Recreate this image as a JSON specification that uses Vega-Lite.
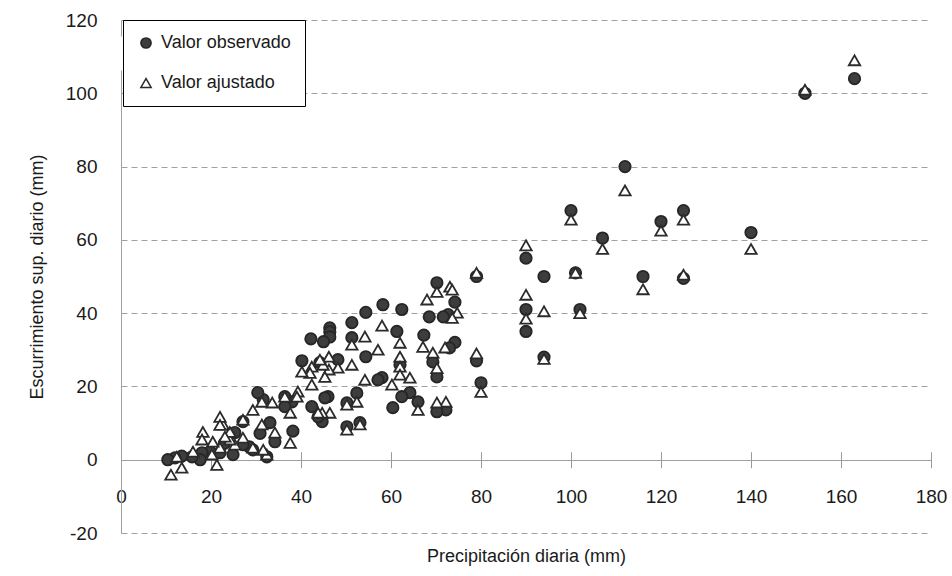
{
  "$schema": "https://vega.github.io/schema/vega-lite/v6.json",
  "width": 810,
  "height": 513,
  "autosize": {"type": "none"},
  "padding": {"left": 121, "top": 20, "right": 21, "bottom": 43},
  "background": "white",
  "config": {"font": "Liberation Sans", "view": {"stroke": null}},
  "data": {"values": [
    {"p":163,"e":104,"s":"Valor observado"},{"p":152,"e":100,"s":"Valor observado"},{"p":140,"e":62,"s":"Valor observado"},{"p":125,"e":68,"s":"Valor observado"},{"p":125,"e":49.5,"s":"Valor observado"},{"p":120,"e":65,"s":"Valor observado"},{"p":116,"e":50,"s":"Valor observado"},{"p":112,"e":80,"s":"Valor observado"},{"p":107,"e":60.5,"s":"Valor observado"},{"p":102,"e":41,"s":"Valor observado"},{"p":101,"e":51,"s":"Valor observado"},{"p":100,"e":68,"s":"Valor observado"},{"p":94,"e":50,"s":"Valor observado"},{"p":94,"e":28,"s":"Valor observado"},{"p":90,"e":55,"s":"Valor observado"},{"p":90,"e":41,"s":"Valor observado"},{"p":90,"e":35,"s":"Valor observado"},{"p":80,"e":21,"s":"Valor observado"},{"p":79,"e":27,"s":"Valor observado"},{"p":79,"e":50,"s":"Valor observado"},
    {"p":74.2,"e":43,"s":"Valor observado"},{"p":74.2,"e":32,"s":"Valor observado"},{"p":73,"e":30.5,"s":"Valor observado"},{"p":72.7,"e":39.6,"s":"Valor observado"},{"p":71.6,"e":39,"s":"Valor observado"},{"p":72.2,"e":13.6,"s":"Valor observado"},{"p":70.2,"e":48.3,"s":"Valor observado"},{"p":70.2,"e":22.6,"s":"Valor observado"},{"p":70.2,"e":13.1,"s":"Valor observado"},{"p":69.3,"e":26.7,"s":"Valor observado"},{"p":68.5,"e":39,"s":"Valor observado"},{"p":67.3,"e":34,"s":"Valor observado"},{"p":66,"e":15.8,"s":"Valor observado"},{"p":64.2,"e":18.3,"s":"Valor observado"},{"p":62.4,"e":17.2,"s":"Valor observado"},{"p":62.4,"e":41,"s":"Valor observado"},{"p":62,"e":25.9,"s":"Valor observado"},{"p":61.3,"e":35,"s":"Valor observado"},{"p":60.4,"e":14.2,"s":"Valor observado"},{"p":58.2,"e":42.3,"s":"Valor observado"},{"p":58,"e":22.4,"s":"Valor observado"},{"p":57.1,"e":21.8,"s":"Valor observado"},
    {"p":54.4,"e":40.2,"s":"Valor observado"},{"p":54.4,"e":28.1,"s":"Valor observado"},{"p":53.1,"e":10.1,"s":"Valor observado"},{"p":52.4,"e":18.2,"s":"Valor observado"},{"p":51.3,"e":37.4,"s":"Valor observado"},{"p":51.3,"e":33.3,"s":"Valor observado"},{"p":50.2,"e":15.5,"s":"Valor observado"},{"p":50.2,"e":9,"s":"Valor observado"},{"p":48.2,"e":27.3,"s":"Valor observado"},{"p":46.4,"e":36,"s":"Valor observado"},{"p":46.4,"e":34.9,"s":"Valor observado"},{"p":46.4,"e":33.5,"s":"Valor observado"},{"p":46,"e":17.2,"s":"Valor observado"},{"p":45.3,"e":16.9,"s":"Valor observado"},{"p":45,"e":32.2,"s":"Valor observado"},{"p":44.7,"e":10.4,"s":"Valor observado"},{"p":44.2,"e":26.5,"s":"Valor observado"},{"p":43.8,"e":11.7,"s":"Valor observado"},{"p":42.4,"e":14.5,"s":"Valor observado"},{"p":42.2,"e":33,"s":"Valor observado"},{"p":40.2,"e":27,"s":"Valor observado"},
    {"p":38,"e":15.8,"s":"Valor observado"},{"p":38.2,"e":7.8,"s":"Valor observado"},{"p":36.4,"e":17.2,"s":"Valor observado"},{"p":36.4,"e":14.5,"s":"Valor observado"},{"p":34.2,"e":4.9,"s":"Valor observado"},{"p":33.1,"e":10.1,"s":"Valor observado"},{"p":32.4,"e":0.8,"s":"Valor observado"},{"p":31.6,"e":16.4,"s":"Valor observado"},{"p":30.9,"e":7.2,"s":"Valor observado"},{"p":30.4,"e":18.3,"s":"Valor observado"},{"p":29.3,"e":2.7,"s":"Valor observado"},{"p":28.5,"e":3.5,"s":"Valor observado"},{"p":27.1,"e":10.4,"s":"Valor observado"},{"p":27.1,"e":4.1,"s":"Valor observado"},{"p":25.3,"e":7.4,"s":"Valor observado"},{"p":24.9,"e":1.4,"s":"Valor observado"},{"p":23,"e":4.5,"s":"Valor observado"},{"p":22,"e":1.9,"s":"Valor observado"},{"p":19.8,"e":2.2,"s":"Valor observado"},{"p":18,"e":1.9,"s":"Valor observado"},{"p":17.6,"e":0,"s":"Valor observado"},{"p":15.8,"e":0.8,"s":"Valor observado"},{"p":13.5,"e":1,"s":"Valor observado"},{"p":12,"e":0.5,"s":"Valor observado"},{"p":10.4,"e":0,"s":"Valor observado"},
    {"p":163,"e":109,"s":"Valor ajustado"},{"p":152,"e":101,"s":"Valor ajustado"},{"p":140,"e":57.5,"s":"Valor ajustado"},{"p":125,"e":65.5,"s":"Valor ajustado"},{"p":125,"e":50.5,"s":"Valor ajustado"},{"p":120,"e":62.5,"s":"Valor ajustado"},{"p":116,"e":46.5,"s":"Valor ajustado"},{"p":112,"e":73.5,"s":"Valor ajustado"},{"p":107,"e":57.5,"s":"Valor ajustado"},{"p":102,"e":40,"s":"Valor ajustado"},{"p":101,"e":51,"s":"Valor ajustado"},{"p":100,"e":65.5,"s":"Valor ajustado"},{"p":94,"e":40.5,"s":"Valor ajustado"},{"p":94,"e":27.5,"s":"Valor ajustado"},{"p":90,"e":58.5,"s":"Valor ajustado"},{"p":90,"e":45,"s":"Valor ajustado"},{"p":90,"e":38.5,"s":"Valor ajustado"},{"p":80,"e":18.5,"s":"Valor ajustado"},{"p":79,"e":29,"s":"Valor ajustado"},{"p":79,"e":51,"s":"Valor ajustado"},
    {"p":74.7,"e":40.1,"s":"Valor ajustado"},{"p":73.6,"e":38.7,"s":"Valor ajustado"},{"p":72,"e":30.6,"s":"Valor ajustado"},{"p":73.1,"e":47.2,"s":"Valor ajustado"},{"p":73.6,"e":46.4,"s":"Valor ajustado"},{"p":70.2,"e":45.8,"s":"Valor ajustado"},{"p":68,"e":43.7,"s":"Valor ajustado"},{"p":72.2,"e":15.8,"s":"Valor ajustado"},{"p":70.2,"e":15.6,"s":"Valor ajustado"},{"p":70.2,"e":25,"s":"Valor ajustado"},{"p":69.3,"e":29.2,"s":"Valor ajustado"},{"p":67.1,"e":30.8,"s":"Valor ajustado"},{"p":66,"e":13.6,"s":"Valor ajustado"},{"p":64.2,"e":22.4,"s":"Valor ajustado"},{"p":62,"e":31.9,"s":"Valor ajustado"},{"p":62,"e":28.1,"s":"Valor ajustado"},{"p":62,"e":25.4,"s":"Valor ajustado"},{"p":62,"e":23.2,"s":"Valor ajustado"},{"p":60.2,"e":20.5,"s":"Valor ajustado"},{"p":58,"e":36.6,"s":"Valor ajustado"},{"p":57.1,"e":30,"s":"Valor ajustado"},{"p":54.2,"e":21.8,"s":"Valor ajustado"},{"p":54.2,"e":33.6,"s":"Valor ajustado"},
    {"p":53.1,"e":9.6,"s":"Valor ajustado"},{"p":52.4,"e":15.8,"s":"Valor ajustado"},{"p":51.3,"e":31.4,"s":"Valor ajustado"},{"p":51.3,"e":25.9,"s":"Valor ajustado"},{"p":50.2,"e":15,"s":"Valor ajustado"},{"p":50.2,"e":8.2,"s":"Valor ajustado"},{"p":48.2,"e":25.1,"s":"Valor ajustado"},{"p":46.2,"e":28.1,"s":"Valor ajustado"},{"p":46.2,"e":24.6,"s":"Valor ajustado"},{"p":45.3,"e":22.6,"s":"Valor ajustado"},{"p":44.9,"e":25.9,"s":"Valor ajustado"},{"p":46.4,"e":12.8,"s":"Valor ajustado"},{"p":44.7,"e":12.8,"s":"Valor ajustado"},{"p":44.2,"e":27.3,"s":"Valor ajustado"},{"p":43.8,"e":12.8,"s":"Valor ajustado"},{"p":42.4,"e":25.4,"s":"Valor ajustado"},{"p":42.4,"e":20.5,"s":"Valor ajustado"},{"p":42,"e":23.7,"s":"Valor ajustado"},{"p":40.2,"e":24,"s":"Valor ajustado"},{"p":39.3,"e":18.6,"s":"Valor ajustado"},
    {"p":39.1,"e":17.2,"s":"Valor ajustado"},{"p":37.6,"e":12.8,"s":"Valor ajustado"},{"p":37.6,"e":4.6,"s":"Valor ajustado"},{"p":36.4,"e":17.2,"s":"Valor ajustado"},{"p":33.6,"e":15.6,"s":"Valor ajustado"},{"p":34.2,"e":7.4,"s":"Valor ajustado"},{"p":32.4,"e":1.4,"s":"Valor ajustado"},{"p":31.6,"e":2.7,"s":"Valor ajustado"},{"p":31.3,"e":15.8,"s":"Valor ajustado"},{"p":31.3,"e":9.6,"s":"Valor ajustado"},{"p":29.3,"e":13.6,"s":"Valor ajustado"},{"p":29.3,"e":3.3,"s":"Valor ajustado"},{"p":27.1,"e":6,"s":"Valor ajustado"},{"p":27.1,"e":10.9,"s":"Valor ajustado"},{"p":25.3,"e":4.1,"s":"Valor ajustado"},{"p":24.2,"e":5.5,"s":"Valor ajustado"},{"p":24.2,"e":7.6,"s":"Valor ajustado"},{"p":23.1,"e":6.3,"s":"Valor ajustado"},{"p":22.7,"e":9.6,"s":"Valor ajustado"},{"p":22,"e":11.7,"s":"Valor ajustado"},{"p":22,"e":9.5,"s":"Valor ajustado"},{"p":22,"e":3.3,"s":"Valor ajustado"},{"p":21.3,"e":-1.4,"s":"Valor ajustado"},{"p":20.4,"e":4.9,"s":"Valor ajustado"},{"p":20.2,"e":1.4,"s":"Valor ajustado"},{"p":18.2,"e":7.6,"s":"Valor ajustado"},{"p":18,"e":5.5,"s":"Valor ajustado"},{"p":16,"e":2.2,"s":"Valor ajustado"},{"p":13.5,"e":-2.2,"s":"Valor ajustado"},{"p":12.4,"e":0.8,"s":"Valor ajustado"},{"p":11.1,"e":-4.1,"s":"Valor ajustado"}
  ]},
  "mark": {"type": "point", "filled": true, "strokeWidth": 1.8, "size": 130, "opacity": 1},
  "encoding": {
    "x": {
      "field": "p", "type": "quantitative",
      "scale": {"domain": [0, 180], "nice": false, "zero": false},
      "axis": {
        "title": "Precipitación diaria (mm)",
        "values": [0, 20, 40, 60, 80, 100, 120, 140, 160, 180],
        "offset": -81.29,
        "domain": false, "grid": false,
        "ticks": true, "tickSize": 16, "tickColor": "#999999", "tickWidth": 1,
        "labelFontSize": 19, "labelPadding": 20, "labelColor": "#1a1a1a", "labelFlush": false,
        "titleFontSize": 18, "titleFontWeight": "normal", "titleColor": "#1a1a1a", "titlePadding": 41
      }
    },
    "y": {
      "field": "e", "type": "quantitative",
      "scale": {"domain": [-20, 120], "nice": false, "zero": false},
      "axis": {
        "title": "Escurrimiento sup. diario (mm)",
        "values": [-20, 0, 20, 40, 60, 80, 100, 120],
        "labelExpr": "datum.value + ''",
        "grid": true, "gridColor": "#a0a0a0", "gridWidth": 1,
        "gridDash": {"condition": {"test": "datum.value === 0", "value": []}, "value": [6, 4]},
        "ticks": false, "tickSize": 0,
        "domain": true, "domainColor": "#a0a0a0", "domainWidth": 1, "domainDash": [463, 34, 16, 0],
        "labelFontSize": 19, "labelPadding": 24, "labelColor": "#1a1a1a",
        "titleFontSize": 18, "titleFontWeight": "normal", "titleColor": "#1a1a1a", "titlePadding": 19
      }
    },
    "fill": {
      "field": "s", "type": "nominal",
      "scale": {"domain": ["Valor observado", "Valor ajustado"], "range": ["#3d3d3d", "#ffffff"]},
      "legend": {"orient": "none", "legendX": 2, "legendY": 0, "title": null, "strokeColor": "#000000", "fillColor": "#ffffff", "padding": 14, "labelFontSize": 18, "labelColor": "#1a1a1a", "labelOffset": 6, "rowPadding": 22, "symbolSize": 105, "symbolStrokeWidth": 1.5}
    },
    "stroke": {
      "field": "s", "type": "nominal",
      "scale": {"domain": ["Valor observado", "Valor ajustado"], "range": ["#262626", "#2b2b2b"]},
      "legend": {"orient": "none", "legendX": 2, "legendY": 0, "title": null, "strokeColor": "#000000", "fillColor": "#ffffff", "padding": 14, "labelFontSize": 18, "labelColor": "#1a1a1a", "labelOffset": 6, "rowPadding": 22, "symbolSize": 105, "symbolStrokeWidth": 1.5}
    },
    "shape": {
      "field": "s", "type": "nominal",
      "scale": {"domain": ["Valor observado", "Valor ajustado"], "range": ["circle", "triangle-up"]},
      "legend": {"orient": "none", "legendX": 2, "legendY": 0, "title": null, "strokeColor": "#000000", "fillColor": "#ffffff", "padding": 14, "labelFontSize": 18, "labelColor": "#1a1a1a", "labelOffset": 6, "rowPadding": 22, "symbolSize": 105, "symbolStrokeWidth": 1.5}
    }
  }
}
